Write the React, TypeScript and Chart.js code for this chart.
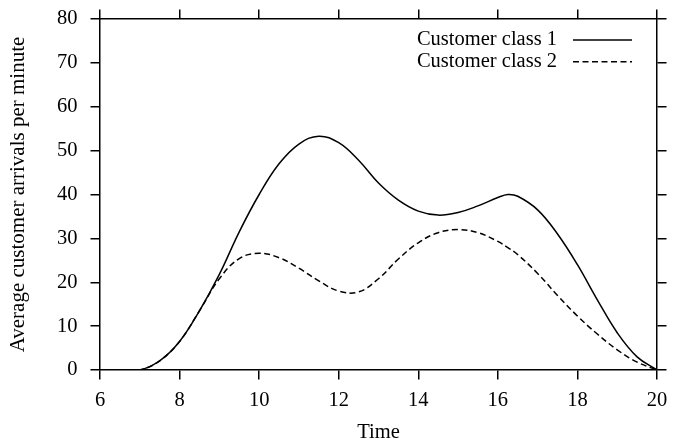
import React, { useEffect, useRef } from "react";
import { Chart, registerables } from "chart.js";

Chart.register(...registerables);

const times = [6, 6.5, 7, 7.5, 8, 8.5, 9, 9.5, 10, 10.5, 11, 11.5, 12, 12.5, 13, 13.5, 14, 14.5, 15, 15.5, 16, 16.25, 16.5, 17, 17.5, 18, 18.5, 19, 19.5, 20];
const class1 = [0, 0, 0, 2.1, 6.5, 13.5, 21.8, 31.5, 40, 47, 51.5, 53.3, 51.8, 47.8, 42.6, 38.7, 36.2, 35.3, 35.9, 37.4, 39.3, 40, 39.6, 36.5, 31, 24, 16, 8.5, 3, 0];
const class2 = [0, 0, 0, 2.1, 6.5, 13.5, 20.8, 25.4, 26.6, 25.6, 23.2, 20.3, 18, 17.8, 20.8, 25.3, 29, 31.3, 32, 31.3, 29.3, 27.9, 26.3, 22, 17, 12.3, 8.2, 4.6, 1.8, 0];
const seriesLabels = ["Customer class 1", "Customer class 2"];
const xTitle = "Time";
const yTitle = "Average customer arrivals per minute";

const FONT = '"Liberation Serif", "Times New Roman", serif';
const FS = 20.5;

const insideLegend = {
  id: "insideLegend",
  afterDatasetsDraw(chart: any) {
    const { ctx, chartArea } = chart;
    ctx.save();
    ctx.font = `${FS}px ${FONT}`;
    ctx.textAlign = "right";
    ctx.textBaseline = "middle";
    chart.data.datasets.forEach((ds: any, i: number) => {
      const y = chartArea.top + 21 + i * 21.7;
      const lineEnd = chartArea.right - 25;
      const lineStart = lineEnd - 59;
      ctx.fillStyle = "#000";
      ctx.fillText(ds.label, lineStart - 16, y);
      ctx.beginPath();
      ctx.setLineDash(ds.borderDash || []);
      ctx.lineWidth = ds.borderWidth;
      ctx.strokeStyle = "#000";
      ctx.moveTo(lineStart, y);
      ctx.lineTo(lineEnd, y);
      ctx.stroke();
    });
    ctx.restore();
  },
};

const noPad = (s: any) => {
  s.paddingTop = 0;
  s.paddingBottom = 0;
  s.paddingLeft = 0;
  s.paddingRight = 0;
};

export default function App() {
  const ref = useRef<HTMLCanvasElement | null>(null);
  useEffect(() => {
    if (!ref.current) return;
    const font = { family: FONT, size: FS };
    const grid = { drawOnChartArea: false, color: "#000", tickLength: 9.5, lineWidth: 1.5 };
    const border = { color: "#000", width: 1.5 };
    const chart = new Chart(ref.current, {
      type: "line",
      data: {
        datasets: [
          {
            label: seriesLabels[0],
            data: times.map((t, i) => ({ x: t, y: class1[i] })),
            borderColor: "#000",
            borderWidth: 1.5,
            pointRadius: 0,
            tension: 0.4,
            fill: false,
            xAxisID: "x",
            yAxisID: "y",
          },
          {
            label: seriesLabels[1],
            data: times.map((t, i) => ({ x: t, y: class2[i] })),
            borderColor: "#000",
            borderWidth: 1.5,
            borderDash: [6, 3.5],
            pointRadius: 0,
            tension: 0.4,
            fill: false,
            xAxisID: "x",
            yAxisID: "y",
          },
        ],
      },
      options: {
        animation: false,
        responsive: false,
        layout: { padding: 0 },
        plugins: { legend: { display: false }, tooltip: { enabled: false } },
        scales: {
          x: {
            type: "linear",
            position: "bottom",
            min: 6,
            max: 20,
            ticks: { stepSize: 2, font, color: "#000", padding: 9 },
            grid,
            border,
            title: { display: true, text: xTitle, font, color: "#000", padding: { top: 0, bottom: -2 } },
            afterFit: (s: any) => { s.height = 73; noPad(s); },
          },
          x2: {
            type: "linear",
            position: "top",
            min: 6,
            max: 20,
            ticks: { display: false, stepSize: 2 },
            grid,
            border,
            afterFit: (s: any) => { s.height = 19; noPad(s); },
          },
          y: {
            type: "linear",
            position: "left",
            min: 0,
            max: 80,
            ticks: { stepSize: 10, font, color: "#000", padding: 13 },
            grid,
            border,
            title: { display: true, text: yTitle, font: { family: FONT, size: 21 }, color: "#000", padding: { top: 5.4, bottom: 0 } },
            afterFit: (s: any) => { s.width = 100; noPad(s); },
          },
          y2: {
            type: "linear",
            position: "right",
            min: 0,
            max: 80,
            ticks: { display: false, stepSize: 10 },
            grid,
            border,
            afterFit: (s: any) => { s.width = 16; noPad(s); },
          },
        },
      } as any,
      plugins: [insideLegend],
    });
    return () => chart.destroy();
  }, []);
  return (
    <div style={{ position: "fixed", left: 0, top: 0, width: 673, height: 443, background: "#fff" }}>
      <canvas ref={ref} width={673} height={443} style={{ display: "block" }} />
    </div>
  );
}
